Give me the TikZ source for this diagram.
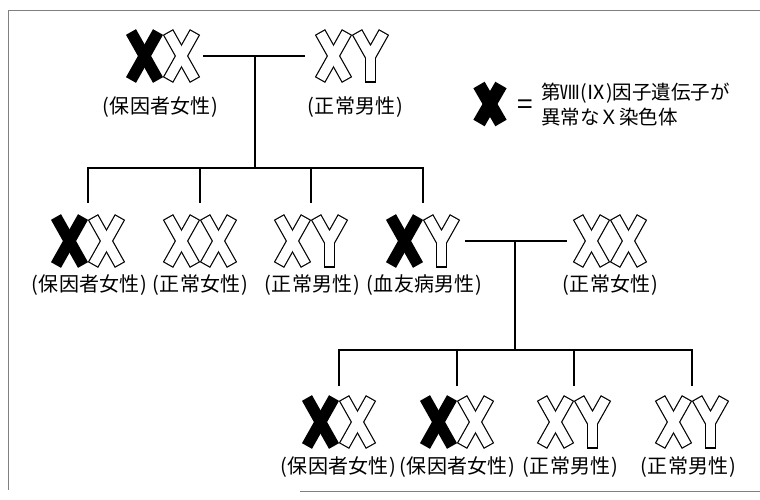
\documentclass[tikz,border=0pt]{standalone}
\usepackage{fontspec}
\setmainfont{Noto Sans CJK JP}
\newcommand\pl[1]{(\kern1.2pt#1\kern1.2pt)}
\newcommand\pairnode[5]{%
  \node[pairbox] (#1) at (#2,#3) {};
  \path (#1) ++(-18.5,0) pic {#4};
  \path (#1) ++(18.5,0) pic {#5};}
\tikzset{
  pairbox/.style={minimum width=74pt, minimum height=52pt, inner sep=0pt},
  lbl/.style={font=\fontsize{20}{24}\selectfont, inner sep=0pt},
  legtxt/.style={font=\fontsize{19.5}{24}\selectfont, inner sep=0pt, anchor=west},
  conn/.style={line width=2.6pt},
  frame/.style={line width=0.8pt, gray},
  xblk/.pic={
    \draw[line width=11.5pt] (-13.5,-24) -- (13.5,24);
    \draw[line width=11.5pt] (13.5,-24) -- (-13.5,24);},
  xwht/.pic={
    \draw[line width=11.8pt] (-13.5,-24) -- (13.5,24);
    \draw[line width=11.8pt] (13.5,-24) -- (-13.5,24);
    \draw[white, line width=9.4pt, shorten <=1.2pt, shorten >=1.2pt] (-13.5,-24) -- (13.5,24);
    \draw[white, line width=9.4pt, shorten <=1.2pt, shorten >=1.2pt] (13.5,-24) -- (-13.5,24);},
  ywht/.pic={
    \draw[line width=11.8pt, line join=miter] (-13.5,-24) -- (0,0) -- (13.5,-24);
    \draw[line width=11.8pt] (0,0) -- (0,26.5);
    \draw[white, line width=9.4pt, line join=miter, shorten <=1.2pt, shorten >=1.2pt] (-13.5,-24) -- (0,0) -- (13.5,-24);
    \draw[white, line width=9.4pt, shorten >=1.2pt] (0,0) -- (0,26.5);},
  xbig/.pic={
    \draw[line width=13pt] (-11,-19) -- (11,19);
    \draw[line width=13pt] (11,-19) -- (-11,19);},
}
\begin{document}
\begin{tikzpicture}[x=1pt,y=-1pt]
\useasboundingbox (0,0) rectangle (760,499);
\fill[white] (0,0) rectangle (760,499);
% frame
\draw[frame] (760,10) -- (8,10) -- (8,490);
\draw[frame] (300,491) -- (760,491);

% generation 1
\pairnode{P1}{163}{56}{xblk}{xwht}
\pairnode{P2}{352}{56}{xwht}{ywht}
\node[lbl] (L1) at (160,107) {\pl{保因者女性}};
\node[lbl] (L2) at (355,107) {\pl{正常男性}};
\coordinate (m1) at (255,56);
\coordinate (b1) at (255,168);
\draw[conn] ([xshift=3pt]P1.east) -- ([xshift=-10pt]P2.west);
\draw[conn] (m1) -- (b1);

% generation 2
\pairnode{C1}{88}{241}{xblk}{xwht}
\pairnode{C2}{200}{241}{xwht}{xwht}
\pairnode{C3}{311}{241}{xwht}{ywht}
\pairnode{C4}{423}{241}{xblk}{ywht}
\pairnode{S2}{610}{241}{xwht}{xwht}
\node[lbl] (L3) at (89,285) {\pl{保因者女性}};
\node[lbl] (L4) at (200,285) {\pl{正常女性}};
\node[lbl] (L5) at (312,285) {\pl{正常男性}};
\node[lbl] (L6) at (424,285) {\pl{血友病男性}};
\node[lbl] (L7) at (610,285) {\pl{正常女性}};
\draw[conn, line join=miter] ([yshift=12pt]C1.north) -- (C1.north |- b1) -- (C4.north |- b1) -- ([yshift=12pt]C4.north);
\foreach \c in {C2,C3} \draw[conn] (\c.north |- b1) -- ([yshift=12pt]\c.north);
\coordinate (m2) at (515,241);
\coordinate (b2) at (515,350);
\draw[conn] ([xshift=5pt]C4.east) -- ([xshift=-6pt]S2.west);
\draw[conn] (m2) -- (b2);

% generation 3
\pairnode{G1}{339}{422}{xblk}{xwht}
\pairnode{G2}{457}{422}{xblk}{xwht}
\pairnode{G3}{574}{422}{xwht}{ywht}
\pairnode{G4}{692}{422}{xwht}{ywht}
\node[lbl] (L8) at (338,467) {\pl{保因者女性}};
\node[lbl] (L9) at (457,467) {\pl{保因者女性}};
\node[lbl] (L10) at (570,467) {\pl{正常男性}};
\node[lbl] (L11) at (688,467) {\pl{正常男性}};
\draw[conn, line join=miter] ([yshift=10pt]G1.north) -- (G1.north |- b2) -- (G4.north |- b2) -- ([yshift=10pt]G4.north);
\foreach \c in {G2,G3} \draw[conn] (\c.north |- b2) -- ([yshift=10pt]\c.north);

% legend
\path (490,104) pic {xbig};
\node[inner sep=0pt, font=\fontsize{28}{30}\selectfont] (eq) at (525,107) {=};
\node[legtxt] (leg1) at (541,93) {第Ⅷ(Ⅸ)因子遺伝子が};
\node[legtxt] (leg2) at (541,117) {異常なＸ染色体};
\end{tikzpicture}
\end{document}
